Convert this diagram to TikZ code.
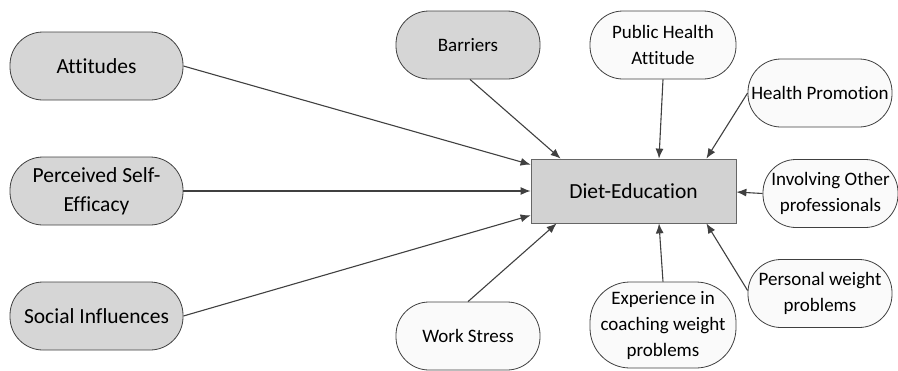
\documentclass[tikz,border=0pt]{standalone}
\usepackage{fontspec}
\setmainfont{Carlito}[Ligatures=NoCommon]
\usetikzlibrary{arrows.meta}

\definecolor{edgegray}{RGB}{64,64,64}
\definecolor{factorgray}{RGB}{214,214,214}
\definecolor{factorwhite}{RGB}{250,250,250}
\definecolor{centergray}{RGB}{210,210,210}

\begin{document}
\begin{tikzpicture}[x=1pt, y=-1pt,
    every node/.style={font=\fontsize{19}{26}\selectfont, align=center, inner sep=0pt},
    bigtext/.style={font=\fontsize{21.5}{29}\selectfont},
    factor/.style={rectangle, rounded corners=33pt, draw=edgegray, line width=0.8pt,
      minimum height=68pt},
    grayfactor/.style={factor, fill=factorgray},
    whitefactor/.style={factor, fill=factorwhite},
    centerbox/.style={rectangle, draw=edgegray!80, line width=0.8pt, fill=centergray,
      minimum width=205pt, minimum height=64pt, bigtext},
    link/.style={draw=edgegray, line width=1.1pt, -{Latex[length=10pt,width=8pt]}}]
  \useasboundingbox (0,0) rectangle (898,370);

  \node[centerbox] (diet) at (633.5, 191) {Diet-Education};

  \node[grayfactor, bigtext, minimum width=173pt] (attitudes) at (96.5, 66) {Attitudes};
  \node[grayfactor, bigtext, minimum width=173pt] (efficacy) at (96.5, 191) {Perceived Self-\\Efficacy};
  \node[grayfactor, bigtext, minimum width=173pt] (social) at (96.5, 316) {Social Influences};
  \node[grayfactor, minimum width=144pt] (barriers) at (468, 45) {Barriers};

  \node[whitefactor, minimum width=144pt] (stress) at (468, 336) {Work Stress};
  \node[whitefactor, minimum width=146pt] (public) at (663, 45) {Public Health\\Attitude};
  \node[whitefactor, minimum width=144pt] (promotion) at (820, 93) {Health Promotion};
  \node[whitefactor, minimum width=135pt] (involving) at (830.5, 193.5) {Involving Other\\professionals};
  \node[whitefactor, minimum width=144pt] (personal) at (820, 293.5) {Personal weight\\problems};
  \node[whitefactor, minimum width=146pt, minimum height=86pt, rounded corners=40pt]
    (experience) at (663, 325) {Experience in\\coaching weight\\problems};

  \draw[link] (attitudes.east) -- ([yshift=-6pt]diet.north west);
  \draw[link] (efficacy.east) -- (diet.west);
  \draw[link] (social.east) -- ([yshift=8pt]diet.south west);
  \draw[link] ([xshift=2pt]barriers.south) -- ([xshift=30pt]diet.north west);
  \draw[link] (stress.north) -- ([xshift=26pt]diet.south west);
  \draw[link] (public.south) -- ([xshift=25.5pt]diet.north);
  \draw[link] (promotion.west) -- ([xshift=-30pt]diet.north east);
  \draw[link] (involving.west) -- ([yshift=-1pt]diet.east);
  \draw[link] ([yshift=3pt]personal.west) -- ([xshift=-30pt]diet.south east);
  \draw[link] (experience.north) -- ([xshift=25.5pt]diet.south);
\end{tikzpicture}
\end{document}
